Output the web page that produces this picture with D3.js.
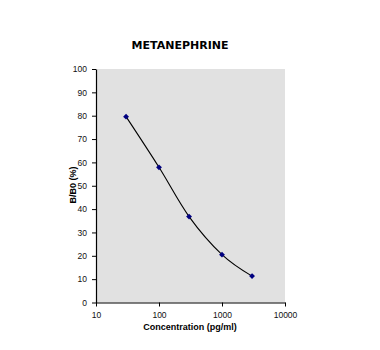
<!DOCTYPE html>
<html>
<head>
<meta charset="utf-8">
<script src="https://cdn.jsdelivr.net/npm/d3@7"></script>
<style>
  html, body { margin: 0; padding: 0; background: #fff; }
  svg { display: block; font-family: "Liberation Sans", Arial, Helvetica, sans-serif; }
</style>
</head>
<body>
<svg id="chart" width="380" height="350"></svg>
<script>
// Standard curve: concentration (pg/ml) vs. B/B0 (%)
const concentrations = [30, 100, 300, 1000, 3000];
const bb0Percent = [79.6, 57.9, 36.8, 20.5, 11.3];
const xTickValues = [10, 100, 1000, 10000];
const yTickValues = [0, 10, 20, 30, 40, 50, 60, 70, 80, 90, 100];

const chartTitle = "METANEPHRINE";
const xAxisTitle = "Concentration (pg/ml)";
const yAxisTitle = "B/B0 (%)";

const svg = d3.select("#chart");
const plot = { left: 96, right: 285, top: 69, bottom: 302.5 };

const x = d3.scaleLog().domain([10, 10000]).range([plot.left, plot.right]);
const y = d3.scaleLinear().domain([0, 100]).range([plot.bottom, plot.top]);

// Plot area background
svg.append("rect")
  .attr("x", plot.left).attr("y", plot.top)
  .attr("width", plot.right - plot.left).attr("height", plot.bottom - plot.top)
  .attr("fill", "#e1e1e1");

// Axes
const xAxis = svg.append("g")
  .attr("transform", `translate(0,${plot.bottom})`)
  .call(d3.axisBottom(x).tickValues(xTickValues).tickFormat(d3.format("d")).tickSize(4).tickSizeOuter(0));
const yAxis = svg.append("g")
  .attr("transform", `translate(${plot.left},0)`)
  .call(d3.axisLeft(y).tickValues(yTickValues).tickSize(4).tickSizeOuter(0));

[xAxis, yAxis].forEach(g => {
  g.select(".domain").attr("stroke", "#000").attr("stroke-width", 1.2);
  g.selectAll(".tick line").attr("stroke", "#000");
  g.selectAll(".tick text")
    .attr("fill", "#111")
    .style("font-size", "8.5px")
    .style("font-family", "\"Liberation Sans\", Arial, sans-serif");
});
xAxis.selectAll(".tick text").attr("y", 15.5).attr("dy", null);
yAxis.selectAll(".tick text").attr("x", -9);

// Smoothed curve through the points
const points = concentrations.map((c, i) => [x(c), y(bb0Percent[i])]);
svg.append("path")
  .datum(points)
  .attr("fill", "none")
  .attr("stroke", "#000")
  .attr("stroke-width", 1.1)
  .attr("d", d3.line().curve(d3.curveCardinal.tension(0)));

// Diamond markers (squares turned 45 degrees)
svg.append("g").selectAll("path")
  .data(points)
  .join("path")
  .attr("transform", d => `translate(${d[0]},${d[1]}) rotate(45)`)
  .attr("d", d3.symbol(d3.symbolSquare, 17))
  .attr("fill", "#000080");

// Titles
svg.append("text")
  .attr("x", 180).attr("y", 49)
  .attr("text-anchor", "middle")
  .style("font-family", "\"DejaVu Sans\", Verdana, sans-serif")
  .style("font-size", "11px").style("font-weight", "bold")
  .attr("fill", "#000")
  .text(chartTitle);

svg.append("text")
  .attr("x", 190).attr("y", 330)
  .attr("text-anchor", "middle")
  .style("font-size", "9px").style("font-weight", "bold")
  .attr("fill", "#000")
  .text(xAxisTitle);

svg.append("text")
  .attr("transform", "translate(76,185) rotate(-90)")
  .attr("text-anchor", "middle")
  .style("font-size", "9px").style("font-weight", "bold")
  .attr("fill", "#000")
  .text(yAxisTitle);
</script>
</body>
</html>
